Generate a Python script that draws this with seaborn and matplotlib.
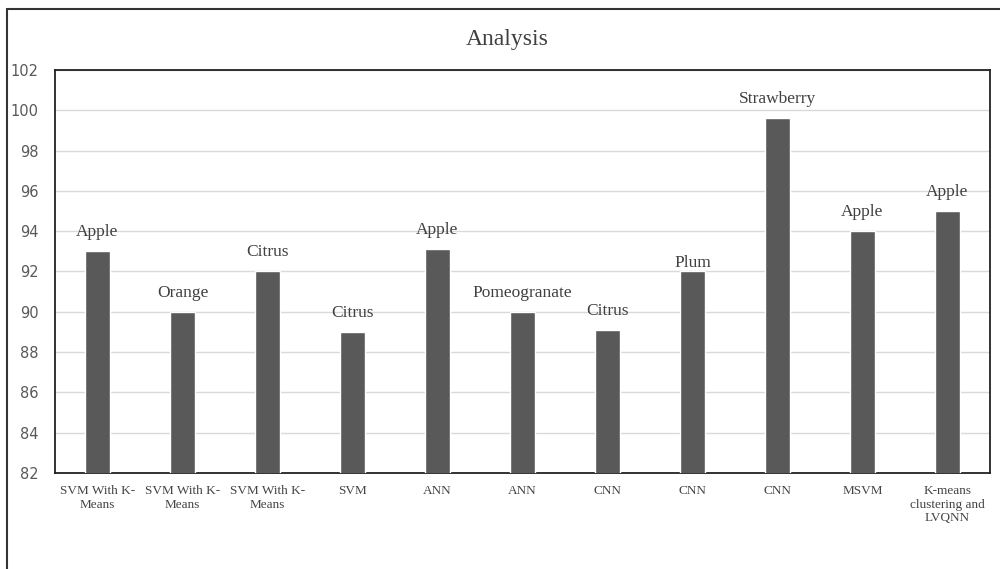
import numpy as np
import matplotlib.pyplot as plt
import seaborn as sns
import pandas as pd
from matplotlib.lines import Line2D

# Data
methods = ["SVM With K-\nMeans", "SVM With K-\nMeans", "SVM With K-\nMeans", "SVM",
           "ANN", "ANN", "CNN", "CNN", "CNN", "MSVM",
           "K-means\nclustering and\nLVQNN"]
fruits = ["Apple", "Orange", "Citrus", "Citrus", "Apple", "Pomeogranate",
          "Citrus", "Plum", "Strawberry", "Apple", "Apple"]
accuracy = [93.0, 90.0, 92.0, 89.0, 93.1, 90.0, 89.1, 92.0, 99.6, 94.0, 95.0]

serif = "Liberation Serif"

df = pd.DataFrame({"slot": [str(i) for i in range(len(methods))],
                   "method": methods, "fruit": fruits, "accuracy": accuracy})

sns.set_style("white")
fig = plt.figure(figsize=(10, 5.69), dpi=100)
ax = fig.add_axes([0.055, 0.169, 0.935, 0.708])

sns.barplot(data=df, x="slot", y="accuracy", color="#595959", saturation=1,
            width=0.3, ax=ax, zorder=3)

ax.set_ylim(82, 102)
ax.set_xlim(-0.5, len(methods) - 0.5)
ax.set_yticks(np.arange(82, 103, 2))
ax.yaxis.grid(True, color="#d9d9d9", linewidth=1, zorder=0)
ax.tick_params(axis="both", length=0)
ax.tick_params(axis="y", labelsize=10.5, labelcolor="#595959", pad=12)
ax.set_xticks(range(len(methods)))
ax.set_xticklabels(methods, fontfamily=serif, fontsize=9.5, color="#444444",
                   linespacing=1.15)
ax.tick_params(axis="x", pad=9)
ax.set_xlabel("")
ax.set_ylabel("")
for s in ax.spines.values():
    s.set_color("#222222")
    s.set_linewidth(1.3)

# fruit labels above each bar (Plum sits lower, as in the reference)
for i, (f, v) in enumerate(zip(fruits, accuracy)):
    dy = 0 if f == "Plum" else 8
    ax.annotate(f, (i, v), xytext=(0, dy), textcoords="offset points",
                ha="center", va="bottom", fontfamily=serif, fontsize=12.5,
                color="#404040", zorder=4)

fig.text(0.507, 0.93, "Analysis", ha="center", va="center",
         fontfamily=serif, fontsize=17, color="#404040")

# outer chart border (left and top visible)
fig.add_artist(Line2D([0.007, 0.007], [0, 0.985], transform=fig.transFigure,
                      color="#333333", linewidth=1.5))
fig.add_artist(Line2D([0.007, 1.0], [0.985, 0.985], transform=fig.transFigure,
                      color="#333333", linewidth=1.5))

fig.savefig("out.png", dpi=100)
